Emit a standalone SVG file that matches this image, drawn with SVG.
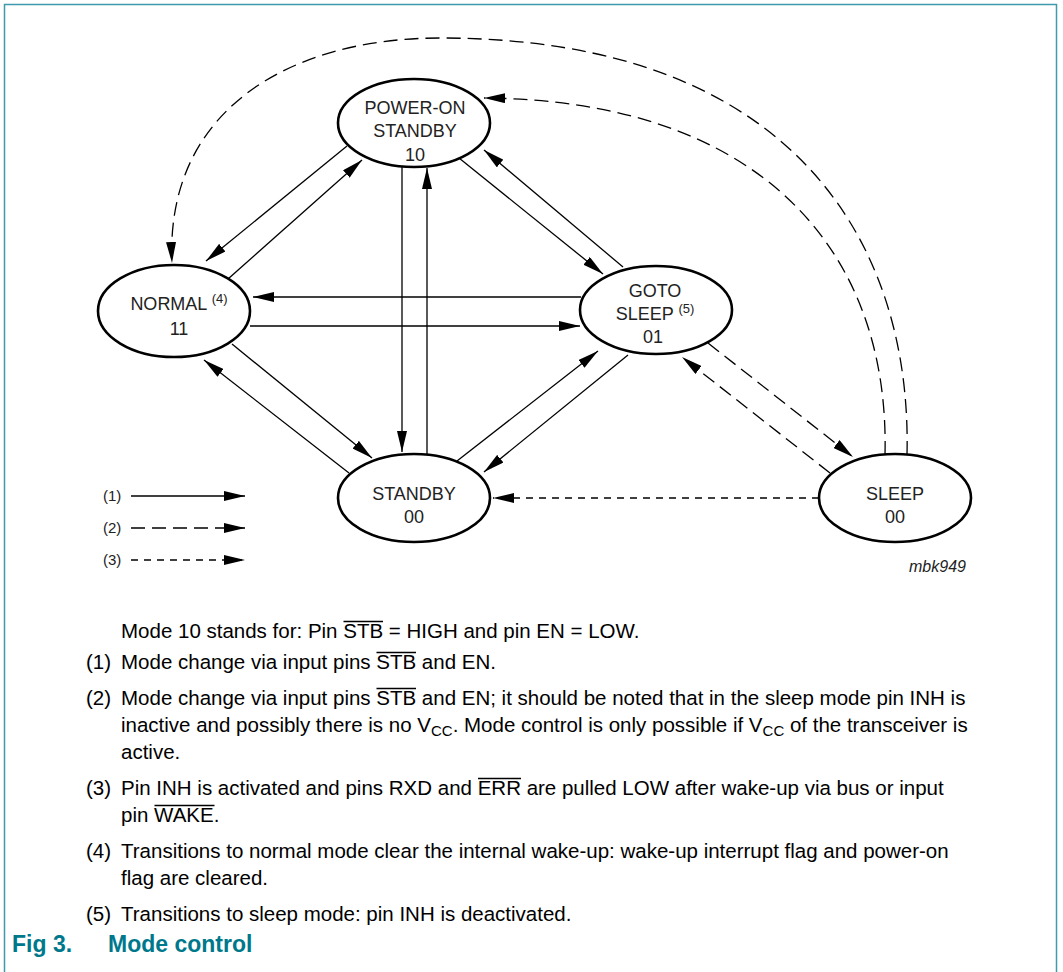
<svg xmlns="http://www.w3.org/2000/svg" width="1063" height="972" viewBox="0 0 1063 972">
<defs>
<marker id="ah" markerUnits="userSpaceOnUse" markerWidth="21" markerHeight="10" refX="21" refY="5" orient="auto" viewBox="0 0 21 10"><path d="M0,0 L21,5 L0,10 z" fill="#000"/></marker>
<style>
.node{fill:#fff;stroke:#000;stroke-width:2.6}
.nt{font-family:"Liberation Sans",Arial,sans-serif;font-size:18px;fill:#222;text-anchor:middle}
.sup{font-size:13px}
.c{fill:none;stroke:#000;stroke-width:1.3;marker-end:url(#ah)}
.d2{stroke-dasharray:14 7}
.d3{stroke-dasharray:7 6}
.lg{font-family:"Liberation Sans",Arial,sans-serif;font-size:15px;fill:#222}
.tx{font-family:"Liberation Sans",Arial,sans-serif;font-size:20.5px;fill:#000}
.ovl{stroke:#000;stroke-width:1.3}
.sb{font-size:15px}
.cap{font-family:"Liberation Sans",Arial,sans-serif;font-size:23px;font-weight:bold;fill:#00788c}
</style>
</defs>
<rect x="0" y="0" width="1063" height="972" fill="#fff"/>
<rect x="4.5" y="4.5" width="1052" height="1000" fill="none" stroke="#3f9aad" stroke-width="1.5"/>

<g id="connectors">
<path class="c d2" d="M907,455 C912,250 800,38 440,38 C290,38 165,110 172,263"/>
<path class="c d2" d="M885,455 C890,250 760,100 484,98"/>
<path class="c" d="M347,146 L206,261"/>
<path class="c" d="M228,279 L362,160"/>
<path class="c" d="M402,167 L402,452"/>
<path class="c" d="M427,455 L427,168"/>
<path class="c" d="M581,297 L253,297"/>
<path class="c" d="M250,326 L580,326"/>
<path class="c" d="M459,158 L603,274"/>
<path class="c" d="M623,267 L484,150"/>
<path class="c" d="M232,344 L372,458"/>
<path class="c" d="M349,473 L204,360"/>
<path class="c" d="M457,461 L598,351"/>
<path class="c" d="M628,355 L484,472"/>
<path class="c d2" d="M708,343 L853,457"/>
<path class="c d2" d="M830,473 L682,357"/>
<path class="c d3" d="M819,498 L493,498"/>
</g>

<g id="node-poweron">
<ellipse class="node" cx="414" cy="123" rx="76" ry="44"/>
<text class="nt" x="415" y="114">POWER-ON</text>
<text class="nt" x="415" y="137">STANDBY</text>
<text class="nt" x="415" y="161">10</text>
</g>
<g id="node-normal">
<ellipse class="node" cx="174" cy="311" rx="76" ry="46"/>
<text class="nt" x="179" y="310">NORMAL <tspan class="sup" dy="-7">(4)</tspan></text>
<text class="nt" x="179" y="335">11</text>
</g>
<g id="node-gotosleep">
<ellipse class="node" cx="656" cy="310" rx="76" ry="44"/>
<text class="nt" x="655" y="297">GOTO</text>
<text class="nt" x="655" y="320">SLEEP <tspan class="sup" dy="-7">(5)</tspan></text>
<text class="nt" x="653" y="343">01</text>
</g>
<g id="node-standby">
<ellipse class="node" cx="414" cy="498" rx="76" ry="44"/>
<text class="nt" x="414" y="500">STANDBY</text>
<text class="nt" x="414" y="523">00</text>
</g>
<g id="node-sleep">
<ellipse class="node" cx="895" cy="498" rx="76" ry="44"/>
<text class="nt" x="895" y="500">SLEEP</text>
<text class="nt" x="895" y="523">00</text>
</g>

<g id="legend">
<text class="lg" x="103" y="501">(1)</text>
<path class="c" d="M131,496 L245,496"/>
<text class="lg" x="103" y="533">(2)</text>
<path class="c d2" d="M131,528 L245,528"/>
<text class="lg" x="103" y="565">(3)</text>
<path class="c d3" d="M131,560 L245,560"/>
</g>
<text x="909" y="572" font-family="Liberation Sans, Arial, sans-serif" font-size="16" font-style="italic" fill="#222">mbk949</text>

<g id="notes">
<text class="tx" x="121" y="638">Mode 10 stands for: Pin STB = HIGH and pin EN = LOW.</text>
<text class="tx" x="86" y="669">(1)</text>
<text class="tx" x="121" y="669">Mode change via input pins STB and EN.</text>
<text class="tx" x="86" y="705">(2)</text>
<text class="tx" x="121" y="705">Mode change via input pins STB and EN; it should be noted that in the sleep mode pin INH is</text>
<text class="tx" x="121" y="732">inactive and possibly there is no V<tspan class="sb" dy="4">CC</tspan><tspan dy="-4">. Mode control is only possible if V</tspan><tspan class="sb" dy="4">CC</tspan><tspan dy="-4"> of the transceiver is</tspan></text>
<text class="tx" x="121" y="759">active.</text>
<text class="tx" x="86" y="795">(3)</text>
<text class="tx" x="121" y="795">Pin INH is activated and pins RXD and ERR are pulled LOW after wake-up via bus or input</text>
<text class="tx" x="121" y="822">pin WAKE.</text>
<text class="tx" x="86" y="858">(4)</text>
<text class="tx" x="121" y="858">Transitions to normal mode clear the internal wake-up: wake-up interrupt flag and power-on</text>
<text class="tx" x="121" y="885">flag are cleared.</text>
<text class="tx" x="86" y="921">(5)</text>
<text class="tx" x="121" y="921">Transitions to sleep mode: pin INH is deactivated.</text>
<line class="ovl" x1="343.5" y1="621.5" x2="383" y2="621.5"/>
<line class="ovl" x1="376.5" y1="652.5" x2="416" y2="652.5"/>
<line class="ovl" x1="376.5" y1="688.5" x2="416" y2="688.5"/>
<line class="ovl" x1="478" y1="778.5" x2="521" y2="778.5"/>
<line class="ovl" x1="154.5" y1="805.5" x2="214.5" y2="805.5"/>
</g>
<text class="cap" x="12" y="952">Fig 3.<tspan x="108">Mode control</tspan></text>
</svg>
